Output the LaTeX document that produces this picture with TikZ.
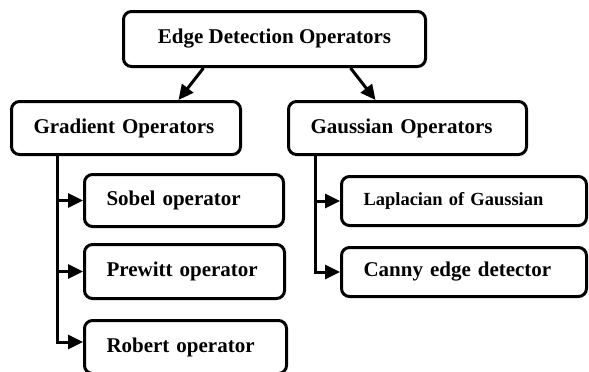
\documentclass[tikz,border=0pt]{standalone}
\usepackage{fontspec}
\setmainfont{Liberation Serif}
\usetikzlibrary{arrows.meta,calc}

\tikzset{
  opbox/.style={draw=black, line width=3pt, rounded corners=8pt, fill=white,
    font=\bfseries\fontsize{21}{24}\selectfont, inner ysep=0pt},
  leftbox/.style 2 args={opbox, minimum height=#2, inner xsep=22pt,
    text width=#1-44pt, align=left},
  conn/.style={draw=black, line width=3pt,
    -{Triangle[length=15pt,width=14pt]}},
}

\begin{document}
\begin{tikzpicture}[x=1pt, y=-1pt]
\clip (0,0) rectangle (589,372);
\useasboundingbox (0,0) rectangle (589,372);
\fill[white] (0,0) rectangle (589,372);

% root
\node[opbox, minimum width=302pt, minimum height=55pt, align=center]
  (root) at (274.5,39) {Edge Detection Operators};

% two families
\node[leftbox={229pt}{53pt}] (grad)  at (126,128)   {Gradient Operators};
\node[leftbox={238pt}{53pt}] (gauss) at (407.5,128) {Gaussian Operators};

% gradient operators
\node[leftbox={199pt}{52pt}] (sobel)   at (184,200.5)   {Sobel operator};
\node[leftbox={200pt}{54pt}] (prewitt) at (184.5,271.5) {Prewitt operator};
\node[leftbox={202pt}{53pt}] (robert)  at (185.5,347)   {Robert operator};

% gaussian operators
\node[leftbox={245pt}{49pt}, font=\bfseries\fontsize{18.5}{22}\selectfont]
  (lap) at (464,201) {Laplacian of Gaussian};
\node[leftbox={245pt}{49pt}] (canny) at (464,272) {Canny edge detector};

% root to families
\draw[conn] ($(root.south west)+(81.5,0)$) -- ($(grad.north west)+(168.5,0)$);
\draw[conn] ($(root.south west)+(228.5,0)$) -- ($(gauss.north west)+(88.5,0)$);

% gradient branch
\coordinate (gstem) at ($(grad.south west)+(47.5,0)$);
\coordinate (rin) at ($(robert.west)+(0,-5)$);
\draw[conn] (gstem) |- (rin);
\draw[conn] (gstem |- sobel.west) -- (sobel.west);
\draw[conn] (gstem |- prewitt.west) -- (prewitt.west);

% gaussian branch
\coordinate (pstem) at ($(gauss.south west)+(28.5,0)$);
\draw[conn] (pstem) |- (canny.west);
\draw[conn] (pstem |- lap.west) -- (lap.west);
\end{tikzpicture}
\end{document}
